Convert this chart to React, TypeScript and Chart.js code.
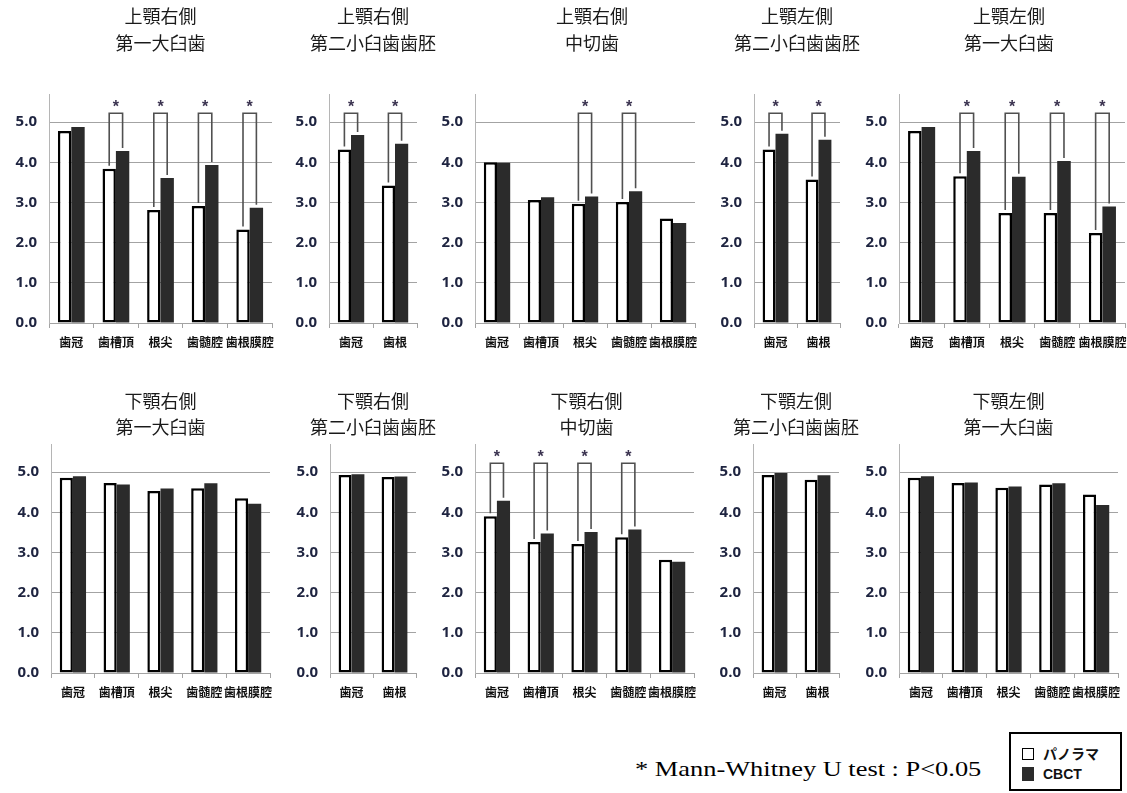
import React, { useEffect, useRef } from 'react';
import { Chart, registerables } from 'chart.js';

Chart.register(...registerables);

// ---------- data ----------
const LABELS_5 = ['歯冠', '歯槽頂', '根尖', '歯髄腔', '歯根膜腔'];
const LABELS_2 = ['歯冠', '歯根'];
const SERIES_NAMES = ['パノラマ', 'CBCT'];
const Y_MIN = 0;
const Y_MAX = 5.7;
const Y_STEP = 1;
const BRACKET_LEVEL = 5.22;
const STAR_LEVEL = 5.48;
const FOOTNOTE = '* Mann-Whitney U test : P<0.05';

// 上顎
const upperRightM1Pano = [4.78, 3.84, 2.81, 2.91, 2.33];
const upperRightM1Cbct = [4.88, 4.28, 3.61, 3.93, 2.87];
const upperRightM1Sig = [false, true, true, true, true];

const upperRightP2Pano = [4.32, 3.42];
const upperRightP2Cbct = [4.68, 4.46];
const upperRightP2Sig = [true, true];

const upperRightI1Pano = [4.0, 3.06, 2.97, 3.01, 2.6];
const upperRightI1Cbct = [3.99, 3.13, 3.15, 3.28, 2.49];
const upperRightI1Sig = [false, false, true, true, false];

const upperLeftP2Pano = [4.32, 3.57];
const upperLeftP2Cbct = [4.71, 4.56];
const upperLeftP2Sig = [true, true];

const upperLeftM1Pano = [4.78, 3.65, 2.74, 2.74, 2.24];
const upperLeftM1Cbct = [4.88, 4.28, 3.64, 4.03, 2.9];
const upperLeftM1Sig = [false, true, true, true, true];

// 下顎
const lowerRightM1Pano = [4.86, 4.73, 4.53, 4.6, 4.35];
const lowerRightM1Cbct = [4.9, 4.69, 4.59, 4.72, 4.21];
const lowerRightM1Sig = [false, false, false, false, false];

const lowerRightP2Pano = [4.93, 4.88];
const lowerRightP2Cbct = [4.95, 4.89];
const lowerRightP2Sig = [false, false];

const lowerRightI1Pano = [3.9, 3.26, 3.21, 3.38, 2.82];
const lowerRightI1Cbct = [4.29, 3.47, 3.51, 3.57, 2.77];
const lowerRightI1Sig = [true, true, true, true, false];

const lowerLeftP2Pano = [4.93, 4.81];
const lowerLeftP2Cbct = [4.98, 4.92];
const lowerLeftP2Sig = [false, false];

const lowerLeftM1Pano = [4.86, 4.73, 4.61, 4.69, 4.44];
const lowerLeftM1Cbct = [4.9, 4.74, 4.64, 4.72, 4.18];
const lowerLeftM1Sig = [false, false, false, false, false];

// ---------- layout ----------
const ROWS = [
  { top: 0, height: 353, padTop: 94, titleY: [16, 43] },
  { top: 370, height: 333, padTop: 74, titleY: [31, 57] },
];

const PANELS = [
  { row: 0, axisX: 49, plotRight: 272, titleDx: 0, title: ['上顎右側', '第一大臼歯'], labels: LABELS_5, pano: upperRightM1Pano, cbct: upperRightM1Cbct, sig: upperRightM1Sig },
  { row: 0, axisX: 329, plotRight: 417, titleDx: 0, title: ['上顎右側', '第二小臼歯歯胚'], labels: LABELS_2, pano: upperRightP2Pano, cbct: upperRightP2Cbct, sig: upperRightP2Sig },
  { row: 0, axisX: 475, plotRight: 695, titleDx: 7, title: ['上顎右側', '中切歯'], labels: LABELS_5, pano: upperRightI1Pano, cbct: upperRightI1Cbct, sig: upperRightI1Sig },
  { row: 0, axisX: 754, plotRight: 840, titleDx: 0, title: ['上顎左側', '第二小臼歯歯胚'], labels: LABELS_2, pano: upperLeftP2Pano, cbct: upperLeftP2Cbct, sig: upperLeftP2Sig },
  { row: 0, axisX: 899, plotRight: 1125, titleDx: -3, title: ['上顎左側', '第一大臼歯'], labels: LABELS_5, pano: upperLeftM1Pano, cbct: upperLeftM1Cbct, sig: upperLeftM1Sig },
  { row: 1, axisX: 51, plotRight: 270, titleDx: 0, title: ['下顎右側', '第一大臼歯'], labels: LABELS_5, pano: lowerRightM1Pano, cbct: lowerRightM1Cbct, sig: lowerRightM1Sig },
  { row: 1, axisX: 330, plotRight: 416, titleDx: 0, title: ['下顎右側', '第二小臼歯歯胚'], labels: LABELS_2, pano: lowerRightP2Pano, cbct: lowerRightP2Cbct, sig: lowerRightP2Sig },
  { row: 1, axisX: 475, plotRight: 694, titleDx: 2, title: ['下顎右側', '中切歯'], labels: LABELS_5, pano: lowerRightI1Pano, cbct: lowerRightI1Cbct, sig: lowerRightI1Sig },
  { row: 1, axisX: 753, plotRight: 839, titleDx: 0, title: ['下顎左側', '第二小臼歯歯胚'], labels: LABELS_2, pano: lowerLeftP2Pano, cbct: lowerLeftP2Cbct, sig: lowerLeftP2Sig },
  { row: 1, axisX: 899, plotRight: 1118, titleDx: 0, title: ['下顎左側', '第一大臼歯'], labels: LABELS_5, pano: lowerLeftM1Pano, cbct: lowerLeftM1Cbct, sig: lowerLeftM1Sig },
];

const Y_AXIS_W = 50;
const X_AXIS_H = 30;
const PAGE_W = 1127;
const PAGE_H = 793;
const CJK = '"Noto Sans CJK JP", "Noto Sans", sans-serif';
const GRID = '#a3a3a3';
const DARK = '#2b2b2b';

function Panel({ p }: { p: any }) {
  const ref = useRef<HTMLCanvasElement | null>(null);
  const row = ROWS[p.row];
  const left = p.axisX - Y_AXIS_W;
  const padRight = Math.min(30, PAGE_W - p.plotRight);
  const width = p.plotRight + padRight - left;

  useEffect(() => {
    if (!ref.current) return;
    const annot = {
      id: 'annot',
      afterDatasetsDraw(chart: any) {
        const { ctx, scales } = chart;
        const y = scales.y;
        const m0 = chart.getDatasetMeta(0);
        const m1 = chart.getDatasetMeta(1);
        ctx.save();
        p.sig.forEach((s: boolean, i: number) => {
          if (!s) return;
          const b0 = m0.data[i];
          const b1 = m1.data[i];
          const topY = y.getPixelForValue(BRACKET_LEVEL);
          ctx.beginPath();
          ctx.strokeStyle = '#505050';
          ctx.lineWidth = 1.6;
          ctx.moveTo(b0.x, b0.y - 3);
          ctx.lineTo(b0.x, topY);
          ctx.lineTo(b1.x, topY);
          ctx.lineTo(b1.x, b1.y - 3);
          ctx.stroke();
          ctx.fillStyle = '#3b3350';
          ctx.font = 'bold 16px "Liberation Sans", Arial, sans-serif';
          ctx.textAlign = 'center';
          ctx.textBaseline = 'alphabetic';
          ctx.fillText('*', (b0.x + b1.x) / 2, y.getPixelForValue(STAR_LEVEL) + 9);
        });
        ctx.restore();
      },
      afterDraw(chart: any) {
        const { ctx, chartArea } = chart;
        ctx.save();
        ctx.fillStyle = '#1a1a1a';
        ctx.font = `18px ${CJK}`;
        ctx.textAlign = 'center';
        ctx.textBaseline = 'middle';
        const cx = (chartArea.left + chartArea.right) / 2 + p.titleDx;
        p.title.forEach((line: string, i: number) => {
          ctx.fillText(line, cx, row.titleY[i]);
        });
        ctx.restore();
      },
    };

    const chart = new Chart(ref.current, {
      type: 'bar',
      data: {
        labels: p.labels,
        datasets: [
          {
            label: SERIES_NAMES[0],
            data: p.pano,
            backgroundColor: '#ffffff',
            borderColor: '#000000',
            borderWidth: 2.5,
            borderSkipped: false,
            categoryPercentage: 0.6,
            barPercentage: 1.0,
          },
          {
            label: SERIES_NAMES[1],
            data: p.cbct,
            backgroundColor: DARK,
            borderColor: DARK,
            borderWidth: 0,
            borderSkipped: false,
            categoryPercentage: 0.6,
            barPercentage: 1.0,
          },
        ],
      },
      options: {
        responsive: false,
        animation: false,
        devicePixelRatio: 1,
        layout: { padding: { left: 0, right: padRight, top: row.padTop, bottom: 0 } },
        plugins: {
          legend: { display: false },
          title: { display: false },
          tooltip: { enabled: false },
        },
        scales: {
          x: {
            type: 'category',
            offset: true,
            grid: { offset: true, drawOnChartArea: false, drawTicks: true, tickLength: 5, color: GRID },
            border: { display: true, color: GRID, width: 1 },
            ticks: {
              autoSkip: false,
              maxRotation: 0,
              minRotation: 0,
              padding: 7,
              color: '#111111',
              font: { family: CJK, size: 12, weight: 'bold' },
            },
            afterFit: (s: any) => {
              s.height = X_AXIS_H;
              s.paddingLeft = 0;
              s.paddingRight = 0;
            },
          },
          y: {
            min: Y_MIN,
            max: Y_MAX,
            grid: { color: GRID, drawTicks: false, lineWidth: 1 },
            border: { display: true, color: '#b5b5b5', width: 1 },
            ticks: {
              stepSize: Y_STEP,
              includeBounds: false,
              padding: 12,
              color: '#1e2440',
              font: { family: '"Open Sans", sans-serif', size: 15, weight: 'bold' },
              callback: (v: any) => Number(v).toFixed(1),
            },
            afterBuildTicks: (s: any) => {
              s.ticks = s.ticks.filter((t: any) => Number.isInteger(t.value));
            },
            afterFit: (s: any) => {
              s.width = Y_AXIS_W;
              s.paddingTop = 0;
              s.paddingBottom = 0;
            },
          },
        },
      },
      plugins: [annot],
    } as any);
    return () => chart.destroy();
  }, []);

  return (
    <canvas
      ref={ref}
      width={width}
      height={row.height}
      style={{ position: 'absolute', left, top: row.top, width, height: row.height }}
    />
  );
}

export default function App() {
  return (
    <div
      style={{
        position: 'absolute',
        left: 0,
        top: 0,
        width: PAGE_W,
        height: PAGE_H,
        overflow: 'hidden',
        background: '#ffffff',
      }}
    >
      {PANELS.map((p, i) => (
        <Panel key={i} p={p} />
      ))}
      <div
        style={{
          position: 'absolute',
          left: 635,
          top: 756,
          fontFamily: '"Liberation Serif", "Times New Roman", serif',
          fontSize: 22,
          color: '#000',
          whiteSpace: 'nowrap',
          transform: 'scaleX(1.2)',
          transformOrigin: 'left center',
        }}
      >
        {FOOTNOTE}
      </div>
      <div
        style={{
          position: 'absolute',
          left: 1009,
          top: 732,
          width: 113,
          height: 59,
          border: '2px solid #000',
          boxSizing: 'border-box',
          background: '#fff',
        }}
      >
        <div style={{ position: 'absolute', left: 11, top: 14, width: 12, height: 12, border: '1.5px solid #000', boxSizing: 'border-box', background: '#fff' }} />
        <div style={{ position: 'absolute', left: 32, top: 9, fontFamily: CJK, fontWeight: 'bold', fontSize: 14, lineHeight: '20px', color: '#111' }}>
          {SERIES_NAMES[0]}
        </div>
        <div style={{ position: 'absolute', left: 11, top: 33, width: 12, height: 14, background: DARK }} />
        <div style={{ position: 'absolute', left: 32, top: 30, fontFamily: '"Liberation Sans", Arial, sans-serif', fontWeight: 'bold', fontSize: 14, lineHeight: '20px', color: '#111' }}>
          {SERIES_NAMES[1]}
        </div>
      </div>
    </div>
  );
}
